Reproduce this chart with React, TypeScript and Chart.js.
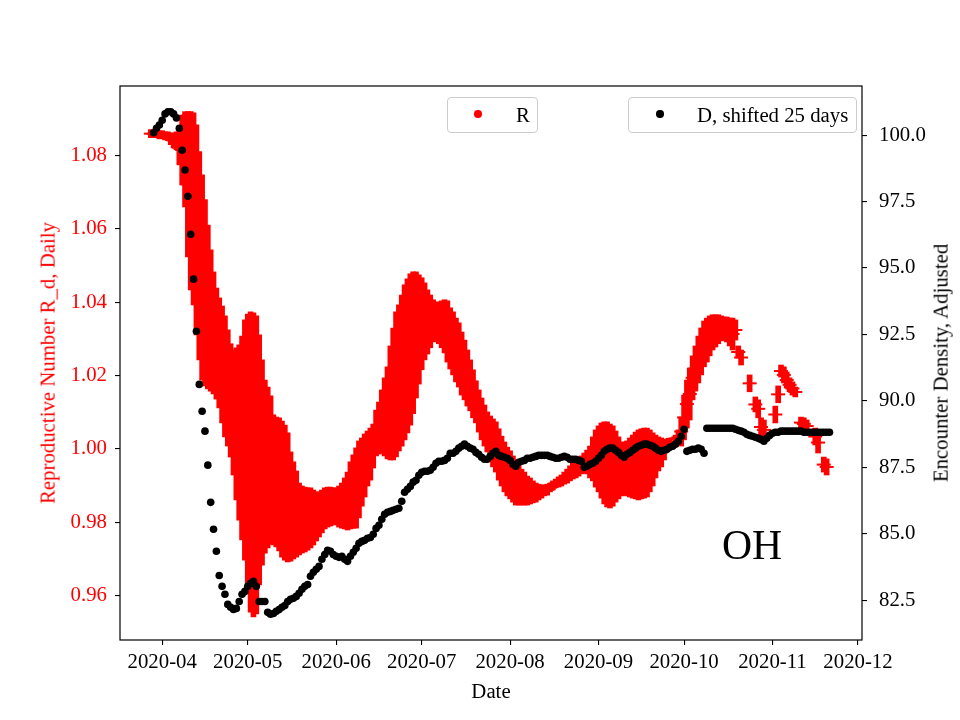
import React, { useEffect, useRef } from 'react';
import { Chart, registerables } from 'chart.js';

Chart.register(...registerables);

// ---------- data ----------
const START_DATE = '2020-03-27'; // first day of the daily series below

// Reproductive number R_d, daily: upper / lower end of each day's bar (null = no estimate)
const rHigh: (number | null)[] = [
  null, 1.0871, 1.0871, 1.0868, 1.0868, 1.0868, 1.0865, 1.0865, 1.0862, 1.0862,
  1.0865, 1.0868, 1.0911, 1.0920, 1.0920, 1.0920, 1.0917, 1.0884, 1.0811, 1.0748,
  1.0680, 1.0611, 1.0543, 1.0483, 1.0439, 1.0412, 1.0390, 1.0363, 1.0325, 1.0287,
  1.0270, 1.0276, 1.0284, 1.0308, 1.0352, 1.0368, 1.0374, 1.0371, 1.0363, 1.0311,
  1.0243, 1.0188, 1.0169, 1.0145, 1.0093, 1.0087, 1.0085, 1.0076, 1.0065, 1.0044,
  0.9992, 0.9965, 0.9940, 0.9907, 0.9899, 0.9896, 0.9894, 0.9894, 0.9888, 0.9883,
  0.9883, 0.9888, 0.9894, 0.9896, 0.9896, 0.9894, 0.9894, 0.9899, 0.9907, 0.9921,
  0.9937, 0.9965, 0.9984, 1.0003, 1.0022, 1.0030, 1.0041, 1.0049, 1.0057, 1.0068,
  1.0106, 1.0128, 1.0161, 1.0194, 1.0224, 1.0281, 1.0330, 1.0374, 1.0393, 1.0420,
  1.0448, 1.0464, 1.0478, 1.0483, 1.0483, 1.0475, 1.0467, 1.0453, 1.0434, 1.0420,
  1.0407, 1.0401, 1.0401, 1.0404, 1.0407, 1.0404, 1.0385, 1.0374, 1.0357, 1.0344,
  1.0319, 1.0297, 1.0270, 1.0243, 1.0216, 1.0186, 1.0161, 1.0139, 1.0120, 1.0101,
  1.0090, 1.0082, 1.0074, 1.0055, 1.0035, 1.0019, 1.0005, 0.9995, 0.9981, 0.9967,
  0.9956, 0.9945, 0.9937, 0.9926, 0.9921, 0.9913, 0.9907, 0.9904, 0.9902, 0.9902,
  0.9904, 0.9907, 0.9913, 0.9918, 0.9924, 0.9929, 0.9937, 0.9945, 0.9954, 0.9962,
  0.9967, 0.9975, 0.9981, 0.9989, 0.9997, 1.0008, 1.0033, 1.0052, 1.0063, 1.0071,
  1.0074, 1.0074, 1.0068, 1.0063, 1.0049, 1.0033, 1.0019, 1.0019, 1.0022, 1.0030,
  1.0038, 1.0046, 1.0052, 1.0055, 1.0057, 1.0057, 1.0052, 1.0044, 1.0038, 1.0033,
  1.0030, 1.0027, 1.0025, 1.0027, 1.0030, 1.0038, 1.0052, 1.0087, 1.0147, 1.0188,
  1.0221, 1.0254, 1.0281, 1.0308, 1.0330, 1.0349, 1.0357, 1.0363, 1.0366, 1.0366,
  1.0366, 1.0363, 1.0360, 1.0360, 1.0357, 1.0357, 1.0352, 1.0281, 1.0270, null,
  null, 1.0202, null, 1.0142, 1.0134, 1.0085, 1.0079, null, null, null,
  1.0117, 1.0172, 1.0229, 1.0224, 1.0210, 1.0194, 1.0183, 1.0169, null, 1.0087,
  1.0085, 1.0079, null, null, 1.0057, 1.0046, null, 0.9978, 0.9973, null,
];

const rLow: (number | null)[] = [
  null, 1.0849, 1.0849, 1.0849, 1.0846, 1.0846, 1.0843, 1.0841, 1.0830, 1.0821,
  1.0816, 1.0775, 1.0720, 1.0660, 1.0524, 1.0434, 1.0393, 1.0311, 1.0243, 1.0188,
  1.0172, 1.0164, 1.0158, 1.0150, 1.0136, 1.0112, 1.0071, 1.0033, 1.0008, 0.9978,
  0.9929, 0.9861, 0.9806, 0.9752, 0.9697, 0.9629, 0.9555, 0.9542, 0.9550, 0.9629,
  0.9683, 0.9716, 0.9730, 0.9741, 0.9738, 0.9733, 0.9722, 0.9705, 0.9697, 0.9692,
  0.9694, 0.9700, 0.9705, 0.9711, 0.9716, 0.9719, 0.9724, 0.9730, 0.9738, 0.9749,
  0.9760, 0.9771, 0.9782, 0.9787, 0.9790, 0.9793, 0.9793, 0.9787, 0.9784, 0.9782,
  0.9779, 0.9782, 0.9784, 0.9784, 0.9812, 0.9844, 0.9869, 0.9899, 0.9915, 0.9948,
  0.9981, 0.9986, 0.9989, 0.9981, 0.9973, 0.9970, 0.9970, 0.9978, 0.9995, 1.0008,
  1.0025, 1.0044, 1.0065, 1.0096, 1.0139, 1.0177, 1.0216, 1.0243, 1.0259, 1.0276,
  1.0292, 1.0297, 1.0287, 1.0276, 1.0262, 1.0237, 1.0218, 1.0202, 1.0183, 1.0169,
  1.0147, 1.0134, 1.0117, 1.0104, 1.0085, 1.0071, 1.0046, 1.0025, 1.0008, 0.9992,
  0.9970, 0.9951, 0.9937, 0.9915, 0.9899, 0.9883, 0.9872, 0.9864, 0.9855, 0.9847,
  0.9847, 0.9847, 0.9847, 0.9847, 0.9850, 0.9853, 0.9855, 0.9861, 0.9866, 0.9872,
  0.9874, 0.9883, 0.9888, 0.9894, 0.9896, 0.9899, 0.9904, 0.9907, 0.9913, 0.9918,
  0.9921, 0.9926, 0.9932, 0.9935, 0.9932, 0.9921, 0.9913, 0.9896, 0.9883, 0.9866,
  0.9850, 0.9842, 0.9839, 0.9844, 0.9855, 0.9864, 0.9872, 0.9874, 0.9872, 0.9869,
  0.9866, 0.9864, 0.9861, 0.9864, 0.9866, 0.9869, 0.9883, 0.9899, 0.9921, 0.9940,
  0.9951, 0.9970, 0.9995, 1.0008, 1.0025, 1.0019, 1.0011, 1.0008, 1.0025, 1.0057,
  1.0079, 1.0134, 1.0158, 1.0180, 1.0202, 1.0224, 1.0237, 1.0254, 1.0270, 1.0278,
  1.0287, 1.0295, 1.0297, 1.0292, 1.0281, 1.0270, 1.0297, 1.0248, 1.0229, null,
  null, 1.0156, null, 1.0101, 1.0085, 1.0035, 1.0025, null, null, null,
  1.0071, 1.0126, 1.0196, 1.0180, 1.0166, 1.0156, 1.0147, 1.0142, null, 1.0057,
  1.0052, 1.0046, null, null, 1.0011, 0.9989, null, 0.9937, 0.9929, null,
];

// Encounter density, adjusted (D, shifted 25 days)
const dValues: (number | null)[] = [
  null, null, 100.09, 100.26, 100.38, 100.56, 100.80, 100.88, 100.88, 100.80,
  100.65, 100.26, 99.43, 98.69, 97.70, 96.27, 94.58, 92.62, 90.62, 89.61,
  88.86, 87.58, 86.18, 85.17, 84.34, 83.43, 83.02, 82.72, 82.34, 82.23,
  82.15, 82.19, 82.45, 82.72, 82.83, 83.02, 83.13, 83.21, 83.02, 82.45,
  82.45, 82.45, 82.04, 81.97, 82.00, 82.08, 82.15, 82.23, 82.30, 82.45,
  82.53, 82.57, 82.64, 82.76, 82.91, 83.02, 83.09, 83.40, 83.55, 83.66,
  83.77, 84.04, 84.22, 84.38, 84.34, 84.22, 84.15, 84.11, 84.15, 84.04,
  83.96, 84.15, 84.30, 84.45, 84.64, 84.71, 84.75, 84.83, 84.86, 84.98,
  85.20, 85.32, 85.54, 85.73, 85.81, 85.84, 85.88, 85.92, 85.96, 86.22,
  86.56, 86.67, 86.78, 86.94, 87.01, 87.20, 87.31, 87.35, 87.35, 87.39,
  87.50, 87.65, 87.73, 87.73, 87.76, 87.84, 88.03, 88.03, 88.10, 88.22,
  88.29, 88.37, 88.29, 88.22, 88.18, 88.06, 87.99, 87.88, 87.80, 87.80,
  87.91, 88.03, 88.10, 87.95, 87.91, 87.88, 87.84, 87.76, 87.61, 87.54,
  87.69, 87.73, 87.76, 87.84, 87.84, 87.88, 87.91, 87.95, 87.95, 87.95,
  87.95, 87.91, 87.88, 87.84, 87.84, 87.88, 87.91, 87.88, 87.80, 87.80,
  87.80, 87.76, 87.73, 87.50, 87.54, 87.61, 87.65, 87.73, 87.84, 87.95,
  88.10, 88.18, 88.22, 88.22, 88.14, 88.06, 87.95, 87.88, 87.99, 88.06,
  88.14, 88.22, 88.29, 88.33, 88.37, 88.37, 88.33, 88.29, 88.22, 88.14,
  88.10, 88.14, 88.18, 88.25, 88.29, 88.37, 88.48, 88.67, 88.93, 88.10,
  88.14, 88.18, 88.18, 88.22, 88.18, 88.03, 88.97, 88.97, 88.97, 88.97,
  88.97, 88.97, 88.97, 88.97, 88.97, 88.97, 88.93, 88.89, 88.86, 88.82,
  88.74, 88.70, 88.67, 88.63, 88.59, 88.55, 88.48, 88.59, 88.70, 88.78,
  88.82, 88.82, 88.86, 88.86, 88.86, 88.86, 88.86, 88.86, 88.86, 88.86,
  88.82, 88.82, 88.82, 88.82, 88.82, 88.82, 88.82, 88.82, 88.82, 88.82,
];

const monthTicks = [
  '2020-04-01', '2020-05-01', '2020-06-01', '2020-07-01', '2020-08-01',
  '2020-09-01', '2020-10-01', '2020-11-01', '2020-12-01',
];
const rTicks = [0.96, 0.98, 1.0, 1.02, 1.04, 1.06, 1.08];
const dTicks = [82.5, 85.0, 87.5, 90.0, 92.5, 95.0, 97.5, 100.0];

const X_MIN_DATE = '2020-03-17';
const X_MAX_DATE = '2020-12-02';
const R_RANGE = [0.9479, 1.0990];
const D_RANGE = [81.0, 101.85];

const STATE_LABEL = 'OH';

// ---------- helpers ----------
const DAY_MS = 86400000;
const EPOCH = Date.UTC(2020, 0, 1);
const dayNum = (s: string) => {
  const [y, m, d] = s.split('-').map(Number);
  return (Date.UTC(y, m - 1, d) - EPOCH) / DAY_MS;
};
const fmtMonth = (v: number) => {
  const dt = new Date(EPOCH + Math.round(v) * DAY_MS);
  return `${dt.getUTCFullYear()}-${String(dt.getUTCMonth() + 1).padStart(2, '0')}`;
};

const FONT = "'Liberation Serif', 'Times New Roman', serif";
const TEXT_SIZE = 20.8;

const framePlugin = {
  id: 'frame',
  afterDatasetsDraw(chart: any) {
    const { ctx, chartArea } = chart;
    const { left, top, right, bottom } = chartArea;
    ctx.save();
    ctx.strokeStyle = '#000';
    ctx.lineWidth = 1.2;
    ctx.strokeRect(left, top, right - left, bottom - top);
    ctx.restore();
  },
};

export default function App() {
  const canvasRef = useRef<HTMLCanvasElement | null>(null);

  useEffect(() => {
    const canvas = canvasRef.current;
    if (!canvas) return;
    const x0 = dayNum(START_DATE);

    const barData: any[] = [];
    const centerData: any[] = [];
    rHigh.forEach((h, i) => {
      const l = rLow[i];
      if (h == null || l == null) return;
      barData.push({ x: x0 + i, y: [l, h] });
      centerData.push({ x: x0 + i, y: (l + h) / 2 });
    });
    const dData: any[] = [];
    dValues.forEach((v, i) => {
      if (v != null) dData.push({ x: x0 + i, y: v });
    });

    const tickFont = { family: FONT, size: TEXT_SIZE };
    const gridCfg = {
      display: true,
      offset: false,
      drawOnChartArea: false,
      drawTicks: true,
      tickLength: 5,
      color: '#000',
      lineWidth: 1.1,
    };

    const chart = new Chart(canvas, {
      type: 'bar',
      data: {
        datasets: [
          {
            type: 'scatter',
            label: 'D, shifted 25 days',
            data: dData,
            yAxisID: 'yD',
            backgroundColor: '#000',
            borderWidth: 0,
            pointRadius: 3.8,
            order: 0,
          } as any,
          {
            type: 'scatter',
            label: 'R',
            data: centerData,
            yAxisID: 'yR',
            pointStyle: 'line',
            pointRadius: 7,
            borderColor: '#ff0000',
            backgroundColor: '#ff0000',
            borderWidth: 2,
            order: 1,
          } as any,
          {
            type: 'bar',
            label: 'R interval',
            data: barData,
            yAxisID: 'yR',
            backgroundColor: '#ff0000',
            borderWidth: 0,
            barThickness: 5,
            order: 2,
          } as any,
        ],
      },
      options: {
        animation: false,
        responsive: false,
        events: [],
        layout: { padding: { top: 86, left: 0, right: 0, bottom: 0 } },
        plugins: {
          legend: { display: false },
          tooltip: { enabled: false },
        },
        scales: {
          x: {
            type: 'linear',
            position: 'bottom',
            min: dayNum(X_MIN_DATE) + 0.2,
            max: dayNum(X_MAX_DATE) + 0.4,
            offset: false,
            afterFit: (s: any) => { s.height = 80; },
            afterBuildTicks: (s: any) => {
              s.ticks = monthTicks.map((m) => ({ value: dayNum(m) }));
            },
            ticks: {
              callback: (v: any) => fmtMonth(Number(v)),
              color: '#000',
              font: tickFont,
              padding: 5,
              maxRotation: 0,
              autoSkip: false,
            },
            grid: gridCfg,
            border: { display: false },
          },
          yR: {
            type: 'linear',
            position: 'left',
            min: R_RANGE[0],
            max: R_RANGE[1],
            afterFit: (s: any) => { s.width = 120; },
            afterBuildTicks: (s: any) => {
              s.ticks = rTicks.map((v) => ({ value: v }));
            },
            ticks: {
              callback: (v: any) => Number(v).toFixed(2),
              color: '#ff0000',
              font: tickFont,
              padding: 8,
              autoSkip: false,
            },
            grid: gridCfg,
            border: { display: false },
          },
          yD: {
            type: 'linear',
            position: 'right',
            min: D_RANGE[0],
            max: D_RANGE[1],
            afterFit: (s: any) => { s.width = 98; },
            afterBuildTicks: (s: any) => {
              s.ticks = dTicks.map((v) => ({ value: v }));
            },
            ticks: {
              callback: (v: any) => Number(v).toFixed(1),
              color: '#000',
              font: tickFont,
              padding: 12,
              autoSkip: false,
            },
            grid: gridCfg,
            border: { display: false },
          },
        },
      } as any,
      plugins: [framePlugin],
    });

    return () => chart.destroy();
  }, []);

  const legendBox: React.CSSProperties = {
    position: 'absolute',
    top: 97,
    height: 36,
    border: '1px solid #cccccc',
    borderRadius: 4,
    background: 'rgba(255,255,255,0.8)',
    boxSizing: 'border-box',
  };
  const legendText: React.CSSProperties = {
    position: 'absolute',
    top: 115,
    transform: 'translateY(-50%)',
    fontFamily: FONT,
    fontSize: TEXT_SIZE,
    lineHeight: 1,
    color: '#000',
    whiteSpace: 'nowrap',
  };
  const dot = (color: string, left: number): React.CSSProperties => ({
    position: 'absolute',
    left: left - 3.7,
    top: 114 - 3.7,
    width: 7.4,
    height: 7.4,
    borderRadius: '50%',
    background: color,
  });
  const title: React.CSSProperties = {
    position: 'absolute',
    fontFamily: FONT,
    fontSize: TEXT_SIZE,
    lineHeight: 1,
    whiteSpace: 'nowrap',
  };

  return (
    <div style={{ position: 'absolute', left: 0, top: 0, width: 960, height: 720, background: '#fff', overflow: 'hidden' }}>
      <canvas ref={canvasRef} width={960} height={720} style={{ display: 'block', width: 960, height: 720 }} />

      {/* axis titles */}
      <div style={{ ...title, left: 491, top: 691, transform: 'translate(-50%, -50%)', color: '#000' }}>Date</div>
      <div style={{ ...title, left: 48, top: 363, transform: 'translate(-50%, -50%) rotate(-90deg)', color: '#ff0000' }}>Reproductive Number R_d, Daily</div>
      <div style={{ ...title, left: 941, top: 363, transform: 'translate(-50%, -50%) rotate(-90deg)', color: '#000' }}>Encounter Density, Adjusted</div>

      {/* state label */}
      <div style={{ ...title, left: 722, top: 525, fontSize: 41.7, color: '#000' }}>{STATE_LABEL}</div>

      {/* legends */}
      <div style={{ ...legendBox, left: 447, width: 91 }} />
      <div style={dot('#ff0000', 478)} />
      <div style={{ ...legendText, left: 516 }}>R</div>

      <div style={{ ...legendBox, left: 628, width: 229 }} />
      <div style={dot('#000', 660)} />
      <div style={{ ...legendText, left: 697 }}>D, shifted 25 days</div>
    </div>
  );
}
